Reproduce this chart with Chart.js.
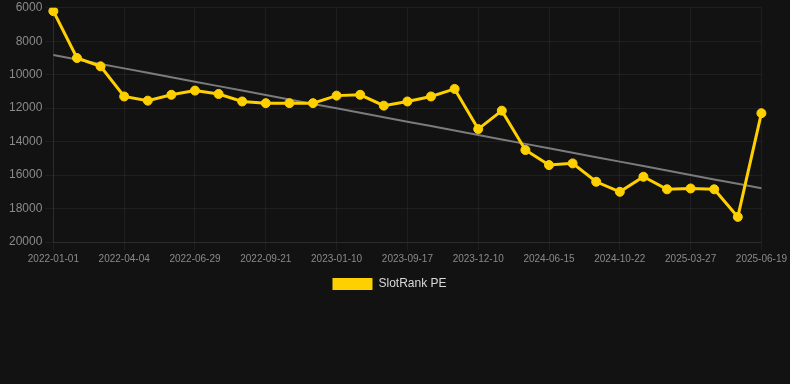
<!DOCTYPE html>
<html lang="en">
<head>
    <meta charset="UTF-8">
    <title>SlotRank PE</title>
    <script src="https://cdn.jsdelivr.net/npm/chart.js@4"></script>
    <style>
        html, body { margin: 0; padding: 0; background: #121212; }
        .chart-container { position: relative; width: 790px; height: 300px; }
    </style>
</head>
<body>
    <div class="chart-container">
        <canvas id="rank-chart"></canvas>
    </div>

    <script>
        // dates of each sample (only every third one is shown on the axis)
        const dates = [
            '2022-01-01', '2022-02-01', '2022-03-04', '2022-04-04', '2022-05-02', '2022-06-01',
            '2022-06-29', '2022-07-27', '2022-08-24', '2022-09-21', '2022-10-25', '2022-12-01',
            '2023-01-10', '2023-03-20', '2023-06-15', '2023-09-17', '2023-10-15', '2023-11-12',
            '2023-12-10', '2024-02-20', '2024-04-20', '2024-06-15', '2024-07-25', '2024-09-05',
            '2024-10-22', '2024-12-10', '2025-02-05', '2025-03-27', '2025-04-25', '2025-05-22',
            '2025-06-19'
        ];

        const rankPE = [
            6200, 9000, 9500, 11300, 11550, 11200,
            10950, 11150, 11600, 11700, 11700, 11700,
            11250, 11200, 11850, 11600, 11300, 10850,
            13250, 12150, 14500, 15400, 15300, 16400,
            17000, 16100, 16850, 16800, 16850, 18500,
            12300
        ];

        const yTicks = { min: 6000, max: 20000, step: 2000 };

        // least squares trend over the series
        function trendOf(values) {
            const n = values.length;
            let sx = 0, sy = 0, sxy = 0, sxx = 0;
            values.forEach((v, i) => { sx += i; sy += v; sxy += i * v; sxx += i * i; });
            const slope = (n * sxy - sx * sy) / (n * sxx - sx * sx);
            const icept = (sy - slope * sx) / n;
            return values.map((v, i) => icept + slope * i);
        }

        const yellow = 'rgb(255, 208, 0)';
        const gridColor = 'rgba(255, 255, 255, 0.06)';
        const fontFamily = 'Arial, "Liberation Sans", sans-serif';

        new Chart(document.getElementById('rank-chart'), {
            type: 'line',
            data: {
                labels: dates,
                datasets: [
                    {
                        label: 'SlotRank PE',
                        data: rankPE,
                        borderColor: yellow,
                        backgroundColor: yellow,
                        borderWidth: 3,
                        pointRadius: 4.5,
                        pointBorderWidth: 1,
                        tension: 0
                    },
                    {
                        label: 'Trend',
                        data: trendOf(rankPE),
                        borderColor: 'rgba(135, 135, 135, 0.9)',
                        borderWidth: 2,
                        pointRadius: 0,
                        fill: false
                    }
                ]
            },
            options: {
                responsive: true,
                maintainAspectRatio: false,
                animation: false,
                layout: { padding: { top: 0, left: 6, right: 17 } },
                plugins: {
                    legend: {
                        position: 'bottom',
                        labels: {
                            color: '#d8d8d8',
                            font: { family: fontFamily, size: 12 },
                            filter: item => item.text === 'SlotRank PE',
                            generateLabels: chart =>
                                Chart.defaults.plugins.legend.labels.generateLabels(chart)
                                    .map(item => ({ ...item, lineWidth: 0 }))
                        }
                    },
                    tooltip: { enabled: false }
                },
                scales: {
                    x: {
                        grid: { color: gridColor, tickColor: gridColor },
                        border: { color: gridColor },
                        ticks: {
                            color: '#8a8a8a',
                            maxRotation: 0,
                            autoSkip: true,
                            maxTicksLimit: 11,
                            font: { family: fontFamily, size: 10 }
                        }
                    },
                    y: {
                        reverse: true,
                        min: yTicks.min,
                        max: yTicks.max,
                        grid: { color: gridColor, tickColor: gridColor },
                        border: { color: gridColor },
                        ticks: {
                            stepSize: yTicks.step,
                            color: '#8a8a8a',
                            font: { family: fontFamily, size: 12, lineHeight: 0.8 },
                            callback: v => String(v)
                        }
                    }
                }
            }
        });
    </script>
</body>
</html>
